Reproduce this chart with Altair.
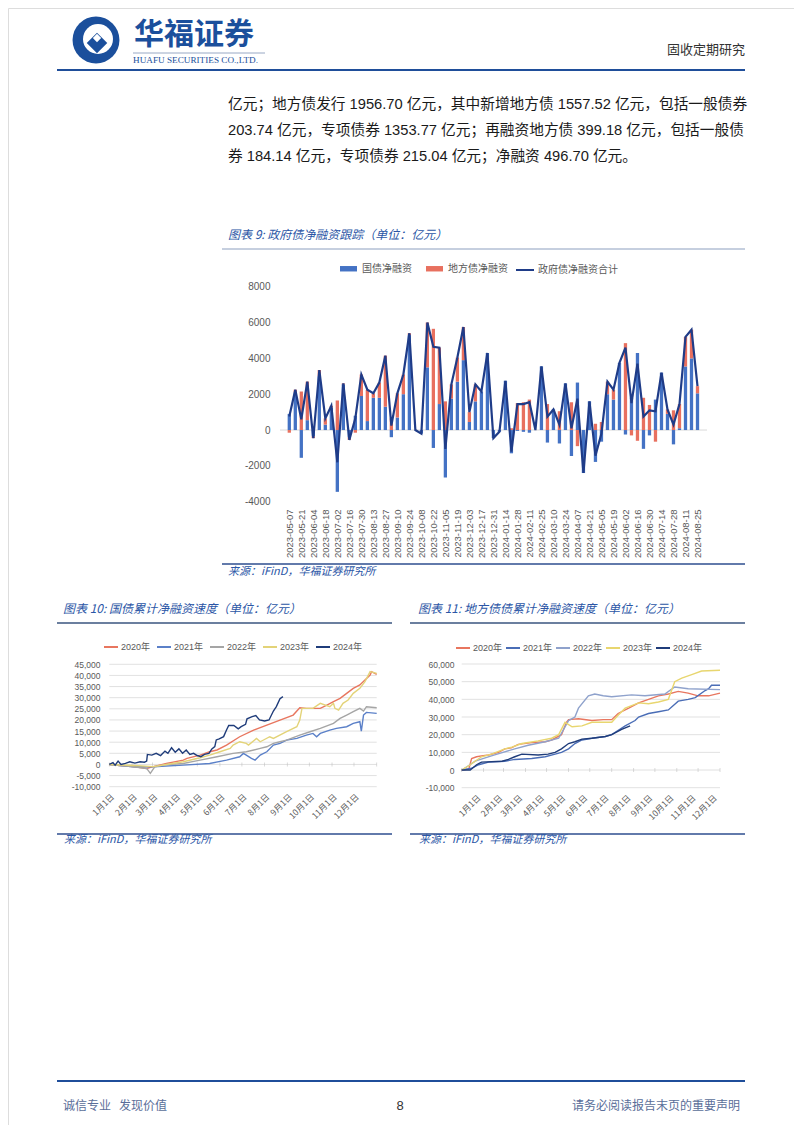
import altair as alt
import pandas as pd

W, H = 786, 1117
CJK = "Noto Sans CJK SC"
LAT = "Liberation Sans"
MIX = "Liberation Sans, Noto Sans CJK SC"
BRAND = "#1B4F9C"
TITLE_BLUE = "#2B56A6"
AXIS_GREY = "#595959"

# ---------------- text content ----------------
brand_cn = "华福证券"
brand_en = "HUAFU SECURITIES CO.,LTD."
header_right = "固收定期研究"
para_lines = [
    "亿元；地方债发行 1956.70 亿元，其中新增地方债 1557.52 亿元，包括一般债券",
    "203.74 亿元，专项债券 1353.77 亿元；再融资地方债 399.18 亿元，包括一般债",
    "券 184.14 亿元，专项债券 215.04 亿元；净融资 496.70 亿元。",
]
title9 = "图表 9: 政府债净融资跟踪（单位：亿元）"
title10 = "图表 10: 国债累计净融资速度（单位：亿元）"
title11 = "图表 11: 地方债债累计净融资速度（单位：亿元）"
source_text = "来源：iFinD，华福证券研究所"
footer_left = "诚信专业\u00a0\u00a0\u00a0发现价值"
footer_mid = "8"
footer_right = "请务必阅读报告末页的重要声明"

# ---------------- chart 9 data ----------------
weeks9 = [
    "2023-05-07", "2023-05-14", "2023-05-21", "2023-05-28", "2023-06-04", "2023-06-11",
    "2023-06-18", "2023-06-25", "2023-07-02", "2023-07-09", "2023-07-16", "2023-07-23",
    "2023-07-30", "2023-08-06", "2023-08-13", "2023-08-20", "2023-08-27", "2023-09-03",
    "2023-09-10", "2023-09-17", "2023-09-24", "2023-10-01", "2023-10-08", "2023-10-15",
    "2023-10-22", "2023-10-29", "2023-11-05", "2023-11-12", "2023-11-19", "2023-11-26",
    "2023-12-03", "2023-12-10", "2023-12-17", "2023-12-24", "2023-12-31",
    "2024-01-07", "2024-01-14", "2024-01-21", "2024-01-28", "2024-02-04", "2024-02-11",
    "2024-02-18", "2024-02-25", "2024-03-03", "2024-03-10", "2024-03-17", "2024-03-24",
    "2024-03-31", "2024-04-07", "2024-04-14", "2024-04-21", "2024-04-28", "2024-05-05",
    "2024-05-12", "2024-05-19", "2024-05-26", "2024-06-02", "2024-06-09", "2024-06-16",
    "2024-06-23", "2024-06-30", "2024-07-07", "2024-07-14", "2024-07-21", "2024-07-28",
    "2024-08-04", "2024-08-11", "2024-08-18", "2024-08-25",
]
treasury9 = [
    900, 2100, -1550, 550, -350, 3000, 300, 1250, -3450, 2550, -400, 800,
    1900, 500, 1800, 1800, 1300, -400, 700, 2000, 5300, 0, -200, 3500,
    -1000, 1450, -2650, 1750, 2700, 3900, 450, 1600, 2150, 4300, -450,
    -100, 2750, -1300, -50, -100, -150, 0, 3550, -700, 1150, -750, 2600,
    -1450, 2650, -2400, 1600, -1780, -650, 2000, 1700, 3750, -250, 1800, 4300,
    -1050, -300, 1700, 3200, 900, -800, 100, 3550, 4000, 2050,
]
local9 = [
    -150, 150, 2150, 2150, -100, 350, 350, 100, 1650, 50, -150, -150,
    1200, 1750, 250, 850, 2850, 650, 1350, 1100, 100, 0, 0, 2500,
    5650, 3150, 1600, 800, 1350, 1850, 550, 950, 0, 0, 0,
    0, 0, 100, 1500, 1550, 1700, 0, 0, 1450, 0, 1050, 0,
    1550, -900, 0, 0, 350, 450, 700, 550, 0, 4850, -300, -600,
    1800, 1400, -650, 0, 250, 1100, 1350, 1650, 1600, 400,
]
kinds9 = ["国债净融资", "地方债净融资"]
total_name9 = "政府债净融资合计"
yticks9 = [-4000, -2000, 0, 2000, 4000, 6000, 8000]

# ---------------- chart 10 / 11 data ----------------
years = ["2020年", "2021年", "2022年", "2023年", "2024年"]
month_days = [0, 31, 59, 90, 120, 151, 181, 212, 243, 273, 304, 334]

c10_days_2020 = [0, 15, 33, 51, 60, 78, 101, 106, 124, 137, 147, 160, 178, 197, 215, 233, 251, 260, 269, 278,
                 288, 297, 306, 315, 324, 333, 342, 349, 356, 358, 365]
c10_vals_2020 = [0, -500, -1000, -1800, -1000, 450, 1950, 2700, 4200, 5700, 6500, 8700, 12450, 15450, 17700,
                 19950, 22200, 25500, 25200, 25200, 25200, 26700, 28200, 29700, 31950, 34200, 35700, 37950,
                 40200, 41700, 40500]
c10_days_2021 = [0, 33, 60, 101, 137, 160, 178, 183, 187, 194, 199, 206, 215, 224, 233, 242, 256, 269, 278, 283,
                 288, 301, 310, 324, 333, 342, 344, 347, 351, 365]
c10_vals_2021 = [0, -1050, -1050, -300, 450, 1950, 3450, 4950, 4200, 2700, 1950, 4200, 5700, 8700, 9450, 10950,
                 11700, 13200, 13950, 12450, 13950, 15450, 16200, 16950, 18450, 19200, 15000, 22200, 23400, 22950]
c10_days_2022 = [0, 33, 51, 56, 62, 78, 101, 124, 147, 169, 187, 206, 215, 224, 233, 242, 260, 274, 288, 306,
                 315, 324, 333, 342, 347, 351, 365]
c10_vals_2022 = [0, -1050, -1800, -4000, -1050, 0, 450, 1950, 3450, 4950, 5700, 7200, 7950, 9450, 10200, 10950,
                 13200, 14700, 16200, 18450, 20700, 22200, 23700, 25200, 24000, 25950, 25500]
c10_days_2023 = [0, 33, 60, 78, 101, 124, 137, 151, 165, 169, 178, 187, 190, 201, 206, 219, 224, 242, 256, 260,
                 263, 269, 278, 288, 301, 306, 308, 313, 319, 326, 333, 342, 349, 356, 365]
c10_vals_2023 = [0, -500, -1000, 0, 1200, 3000, 4200, 5700, 7200, 8700, 10200, 9450, 8700, 11700, 10200, 12450,
                 11700, 14700, 16950, 19950, 25200, 25200, 25200, 27450, 25950, 27450, 25200, 24450, 27450, 28950,
                 31950, 34200, 37200, 41700, 40950]
c10_days_2024 = [0, 5, 8, 12, 16, 22, 28, 35, 42, 48, 51, 52, 58, 64, 70, 76, 80, 85, 90, 95, 100, 105, 110, 115,
                 120, 125, 130, 136, 140, 144, 146, 150, 156, 160, 163, 170, 176, 180, 186, 188, 195, 200, 205,
                 212, 218, 224, 228, 233, 237]
c10_vals_2024 = [0, 800, -300, 1500, 0, 500, 1200, 600, 1200, 1000, 1500, 4500, 4200, 5000, 4000, 6000, 5000,
                 7500, 5500, 7000, 5000, 6500, 4500, 5000, 4000, 3500, 4500, 5000, 7000, 8000, 11000, 11500,
                 12500, 15500, 17500, 17500, 16000, 17000, 18000, 20500, 21500, 22000, 20000, 19500, 20000,
                 24000, 26000, 29500, 30500]
yticks10 = [-10000, -5000, 0, 5000, 10000, 15000, 20000, 25000, 30000, 35000, 40000, 45000]

c11_days_2020 = [0, 10, 14, 21, 28, 38, 52, 61, 70, 80, 99, 118, 127, 141, 148, 151, 165, 184, 200, 212, 221,
                 236, 250, 264, 278, 292, 306, 320, 334, 349, 365]
c11_vals_2020 = [0, 500, 6500, 7500, 8000, 8500, 10000, 12000, 12500, 14500, 15500, 16000, 17000, 20000, 27000,
                 28500, 29000, 28000, 28500, 28500, 32000, 35000, 38000, 40000, 42000, 43000, 44500, 43500,
                 42000, 42000, 43500]
c11_days_2021 = [0, 14, 24, 38, 61, 75, 99, 118, 132, 141, 151, 160, 170, 184, 203, 212, 231, 245, 250, 264, 278,
                 292, 306, 320, 330, 344, 349, 353, 365]
c11_vals_2021 = [0, 1000, 3000, 4500, 5000, 6000, 6500, 7500, 9000, 10000, 12000, 15000, 17000, 18000, 19000,
                 20000, 25000, 28000, 30000, 32000, 33000, 34000, 39000, 40000, 41000, 45000, 46000, 48000, 48000]
c11_days_2022 = [0, 8, 19, 42, 75, 94, 118, 137, 151, 160, 165, 179, 188, 200, 212, 240, 259, 287, 301, 320, 365]
c11_vals_2022 = [0, 2000, 5000, 8000, 12000, 14000, 16000, 18000, 28000, 30000, 35000, 42000, 43000, 42000,
                 41500, 42500, 42000, 43000, 47000, 46000, 45500]
c11_days_2023 = [0, 12, 28, 42, 61, 71, 85, 108, 127, 137, 146, 156, 170, 184, 212, 221, 231, 250, 264, 278, 292,
                 301, 311, 325, 339, 365]
c11_vals_2023 = [0, 3000, 7500, 9000, 12000, 13000, 15000, 16500, 18000, 20000, 27000, 24500, 25000, 27000,
                 27000, 31000, 35000, 38000, 37500, 38500, 40000, 50000, 52000, 54000, 56000, 56500]
c11_days_2024 = [0, 12, 21, 28, 57, 66, 75, 85, 108, 122, 132, 141, 151, 160, 170, 184, 203, 212, 226, 238]
c11_vals_2024 = [0, 0, 3000, 4500, 5000, 6000, 7500, 9000, 8500, 9000, 10000, 12000, 15000, 16000, 17500, 18000,
                 19000, 20000, 23000, 25000]
yticks11 = [-10000, 0, 10000, 20000, 30000, 40000, 50000, 60000]

colors10 = ["#E8765F", "#5B80C8", "#A5A5A5", "#E3D378", "#1F3C7A"]
colors11 = ["#E8765F", "#4A6DB6", "#8FA2CC", "#E8D66F", "#1F3C7A"]


# ---------------- helpers ----------------
def one():
    return pd.DataFrame({"a": [0]})


def text_at(txt, x, y, size, color, align="left", style="normal", weight="normal", font=CJK):
    return alt.Chart(pd.DataFrame({"t": [txt]})).mark_text(
        align=align, baseline="middle", fontSize=size, color=color,
        fontStyle=style, fontWeight=weight, font=font,
    ).encode(x=alt.value(x), y=alt.value(y), text="t:N")


def hrule(x1, x2, y, color, width):
    return alt.Chart(one()).mark_rule(color=color, strokeWidth=width).encode(
        x=alt.value(x1), x2=alt.value(x2), y=alt.value(y))


def dot(x, y, size, color, shape="circle"):
    return alt.Chart(one()).mark_point(shape=shape, filled=True, size=size, color=color,
                                       opacity=1, strokeWidth=0).encode(x=alt.value(x), y=alt.value(y))


def dt(s):
    return alt.DateTime(year=int(s[:4]), month=int(s[5:7]), date=int(s[8:10]), utc=True)


neg_fmt_plain = "(datum.value < 0 ? '-' : '') + format(abs(datum.value), 'd')"
neg_fmt_comma = "(datum.value < 0 ? '-' : '') + format(abs(datum.value), ',')"
month_expr = "(indexof([0,31,59,90,120,151,181,212,243,273,304,334], datum.value) + 1) + '月1日'"

# ---------------- decoration ----------------
decor = [
    # logo
    dot(88, 32, 2200, BRAND),
    dot(90, 31, 900, "white"),
    dot(89, 35, 420, BRAND, "diamond"),
    dot(89, 30, 70, "white", "diamond"),
    text_at(brand_cn, 126, 27, 30, BRAND, weight="bold"),
    hrule(125, 257, 45, "#7F93B5", 0.8),
    text_at(brand_en, 125, 52, 9.2, BRAND, font="Liberation Serif"),
    text_at(header_right, 737, 42, 13, "#333333", align="right"),
    hrule(49, 737, 62, "#1F4E9A", 2),
    # paragraph
    text_at(para_lines[0], 220, 97, 14.7, "#1A1A1A", font=MIX),
    text_at(para_lines[1], 220, 123, 14.7, "#1A1A1A", font=MIX),
    text_at(para_lines[2], 220, 149, 14.7, "#1A1A1A", font=MIX),
    # chart 9 frame
    text_at(title9, 220, 227, 12, TITLE_BLUE, style="italic"),
    hrule(214, 737, 241, "#8C9FBF", 1),
    hrule(214, 737, 556, "#2E4E8F", 1.5),
    text_at(source_text, 220, 564, 11, TITLE_BLUE, style="italic"),
    # chart 10 / 11 frames
    text_at(title10, 55, 601, 12, TITLE_BLUE, style="italic"),
    hrule(49, 384, 615, "#3A557F", 1.5),
    text_at(title11, 410, 601, 12, TITLE_BLUE, style="italic"),
    hrule(402, 737, 615, "#3A557F", 1.5),
    hrule(49, 384, 826, "#2E4E8F", 1.5),
    text_at(source_text, 56, 832, 11, TITLE_BLUE, style="italic"),
    hrule(402, 737, 826, "#2E4E8F", 1.5),
    text_at(source_text, 411, 832, 11, TITLE_BLUE, style="italic"),
    # footer
    hrule(49, 737, 1073, "#1F4E9A", 2),
    text_at(footer_left, 55, 1098, 12, "#5A6E99"),
    text_at(footer_mid, 392, 1098, 13, "#333333", align="center", font=LAT),
    text_at(footer_right, 732, 1098, 12, "#5A6E99", align="right"),
]

# ---------------- chart 9 ----------------
df9 = pd.DataFrame({
    "week": weeks9 * 2,
    "kind": [kinds9[0]] * len(weeks9) + [kinds9[1]] * len(weeks9),
    "value": treasury9 + local9,
    "ord": [0] * len(weeks9) + [1] * len(weeks9),
})
df9_total = pd.DataFrame({
    "week": weeks9,
    "total": [a + b for a, b in zip(treasury9, local9)],
    "series": [total_name9] * len(weeks9),
})

x9_scale = alt.Scale(type="utc", domain=[dt(weeks9[0]), dt(weeks9[-1])], range=[276.3, 694.5], nice=False)
y9_scale = alt.Scale(domain=[-4000, 8000], range=[493.7, 278.7], nice=False)
x9_axis = alt.Axis(orient="bottom", offset=-(H - 500), values=[dt(s) for s in weeks9[::2]], format="%Y-%m-%d",
                   labelAngle=-90, labelFont=LAT, labelFontSize=9.5, labelColor=AXIS_GREY, domain=False,
                   ticks=False, grid=False, labelPadding=1, labelOverlap=False, labelFlush=False,
                   labelBound=False, title=None)
y9_axis = alt.Axis(orient="left", offset=-262, values=yticks9, labelExpr=neg_fmt_plain, labelFont=LAT,
                   labelFontSize=10, labelColor=AXIS_GREY, domain=False, ticks=False, grid=False,
                   labelPadding=0, labelOverlap=False, labelFlush=False, title=None)

zero9 = alt.Chart(pd.DataFrame({"z": [0]})).mark_rule(color="#D9D9D9", strokeWidth=1).encode(
    y=alt.Y("z:Q", scale=y9_scale, axis=y9_axis), x=alt.value(272), x2=alt.value(699))
bars9 = alt.Chart(df9).mark_bar(size=3.3).encode(
    x=alt.X("week:T", scale=x9_scale, axis=x9_axis),
    y=alt.Y("value:Q", stack="zero", scale=y9_scale, axis=y9_axis),
    color=alt.Color("kind:N", scale=alt.Scale(domain=kinds9, range=["#4472C4", "#E8705F"]),
                    legend=alt.Legend(title=None, orient="none", legendX=332, legendY=252,
                                      direction="horizontal", symbolType="M-1,-0.32H1V0.32H-1Z",
                                      symbolSize=289, symbolStrokeWidth=0, labelFont=CJK,
                                      labelFontSize=10, labelColor=AXIS_GREY, columnPadding=14,
                                      labelOffset=5)),
    order=alt.Order("ord:Q"),
)
line9 = alt.Chart(df9_total).mark_line(strokeWidth=2.2).encode(
    x=alt.X("week:T", scale=x9_scale, axis=x9_axis),
    y=alt.Y("total:Q", scale=y9_scale, axis=y9_axis),
    stroke=alt.Stroke("series:N", scale=alt.Scale(domain=[total_name9], range=["#1F3C88"]),
                      legend=alt.Legend(title=None, orient="none", legendX=507, legendY=252,
                                        symbolType="stroke", symbolSize=324, symbolStrokeWidth=2,
                                        labelFont=CJK, labelFontSize=10, labelColor=AXIS_GREY,
                                        labelOffset=3)),
)
chart9 = alt.layer(zero9, bars9, line9)


# ---------------- chart 10 / 11 builder ----------------
def cum_chart(series, colors, yticks, x_range, y_domain, y_range, y_label_x, x_label_y, legend_x, legend_y,
              label_shift, col_pad):
    rows = []
    for yr, (days, vals) in zip(years, series):
        for d, v in zip(days, vals):
            rows.append({"year": yr, "day": d, "value": v})
    df = pd.DataFrame(rows)
    xs = alt.Scale(domain=[0, 365], range=x_range, nice=False, zero=False)
    ys = alt.Scale(domain=y_domain, range=y_range, nice=False, zero=False)
    xa = alt.Axis(orient="bottom", offset=-(H - x_label_y), values=month_days, labelExpr=month_expr,
                  labelAngle=-45, labelFont=CJK, labelFontSize=8.5, labelColor=AXIS_GREY, domain=False,
                  ticks=False, grid=False, labelPadding=0, labelOverlap=False, labelFlush=False,
                  labelBound=False, labelOffset=label_shift, title=None)
    ya = alt.Axis(orient="left", offset=-y_label_x, values=yticks, labelExpr=neg_fmt_comma, labelFont=LAT,
                  labelFontSize=8.5, labelColor=AXIS_GREY, domain=False, ticks=False, grid=False,
                  labelPadding=0, labelOverlap=False, labelFlush=False, title=None)
    grid = alt.Chart(pd.DataFrame({"g": yticks})).mark_rule(color="#D9D9D9", strokeWidth=0.8).encode(
        y=alt.Y("g:Q", scale=ys, axis=ya), x=alt.value(x_range[0]), x2=alt.value(x_range[1]))
    tks = alt.Chart(pd.DataFrame({"m": month_days + [365], "z": [0] * 13})).mark_tick(
        orient="vertical", size=4, thickness=0.8, color="#BFBFBF").encode(
        x=alt.X("m:Q", scale=xs, axis=xa), y=alt.Y("z:Q", scale=ys, axis=ya))
    lines = alt.Chart(df).mark_line(strokeWidth=1.4).encode(
        x=alt.X("day:Q", scale=xs, axis=xa),
        y=alt.Y("value:Q", scale=ys, axis=ya),
        color=alt.Color("year:N", scale=alt.Scale(domain=years, range=colors),
                        legend=alt.Legend(title=None, orient="none", legendX=legend_x, legendY=legend_y,
                                          direction="horizontal", symbolType="stroke", symbolSize=196,
                                          symbolStrokeWidth=2, labelFont=MIX, labelFontSize=9,
                                          labelColor=AXIS_GREY, columnPadding=col_pad, labelOffset=2)),
    )
    return alt.layer(grid, tks, lines)


chart10 = cum_chart(
    [(c10_days_2020, c10_vals_2020), (c10_days_2021, c10_vals_2021), (c10_days_2022, c10_vals_2022),
     (c10_days_2023, c10_vals_2023), (c10_days_2024, c10_vals_2024)],
    colors10, yticks10, [101.3, 368.7], [-10000, 45000], [778.7, 656.3], 92, 784, 95, 631, 0, 2)

chart11 = cum_chart(
    [(c11_days_2020, c11_vals_2020), (c11_days_2021, c11_vals_2021), (c11_days_2022, c11_vals_2022),
     (c11_days_2023, c11_vals_2023), (c11_days_2024, c11_vals_2024)],
    colors11, yticks11, [453.7, 712.0], [-10000, 60000], [779.7, 656.0], 446, 785, 447, 632, 14, -1)

chart = alt.layer(*decor, chart9, chart10, chart11).resolve_scale(
    x="independent", y="independent", color="independent", stroke="independent"
).properties(width=W, height=H, padding=0, background="white").configure_view(stroke=None).configure(font=CJK)

chart.save("out.html", embed_options={"renderer": "svg", "actions": False})
